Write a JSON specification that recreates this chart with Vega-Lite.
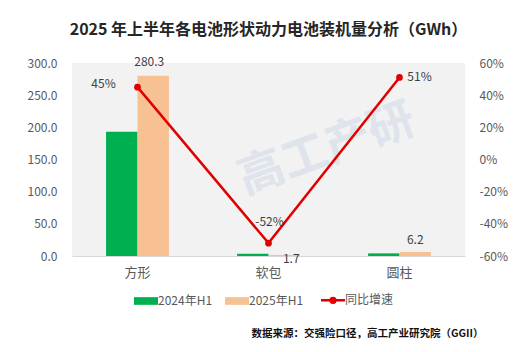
{
  "$schema": "https://vega.github.io/schema/vega-lite/v6.json",
  "width": 393,
  "height": 193,
  "autosize": {"type": "none"},
  "padding": {"left": 72, "top": 63, "right": 63, "bottom": 96},
  "background": "#ffffff",
  "config": {
    "view": {"stroke": null, "fill": "#f2f2f2"},
    "font": "Noto Sans CJK SC",
    "axis": {"labelFont": "Noto Sans CJK SC", "titleFont": "Noto Sans CJK SC"}
  },
  "title": {
    "text": "2025 年上半年各电池形状动力电池装机量分析（GWh）",
    "fontSize": 16,
    "fontWeight": "bold",
    "color": "#262626",
    "anchor": "middle",
    "offset": 18
  },
  "datasets": {
    "bars": [
      {"cat": "方形", "series": "2024年H1", "value": 193.3},
      {"cat": "方形", "series": "2025年H1", "value": 280.3},
      {"cat": "软包", "series": "2024年H1", "value": 3.5},
      {"cat": "软包", "series": "2025年H1", "value": 1.7},
      {"cat": "圆柱", "series": "2024年H1", "value": 4.1},
      {"cat": "圆柱", "series": "2025年H1", "value": 6.2}
    ],
    "growth": [
      {"cat": "方形", "growth": 45, "label": "45%"},
      {"cat": "软包", "growth": -52, "label": "-52%"},
      {"cat": "圆柱", "growth": 51, "label": "51%"}
    ],
    "mark": [
      {"cat": "软包", "value": 132, "text": "高工产研"}
    ]
  },
  "encoding": {
    "x": {
      "field": "cat", "type": "nominal", "sort": ["方形", "软包", "圆柱"],
      "scale": {"paddingInner": 0.52, "paddingOuter": 0.26},
      "axis": {
        "labelAngle": 0, "labelFontSize": 13, "labelColor": "#595959", "labelPadding": 10,
        "ticks": false, "domainColor": "#d9d9d9", "domainWidth": 1,
        "title": "数据来源：交强险口径，高工产业研究院（GGII）",
        "titleFontSize": 10.5, "titleFontWeight": "bold", "titleColor": "#111111",
        "titleAlign": "right", "titleBaseline": "middle", "titleX": 411, "titleY": 77
      }
    }
  },
  "layer": [
    {
      "encoding": {
        "y": {
          "field": "value", "type": "quantitative",
          "scale": {"domain": [0, 300]},
          "axis": {
            "values": [0, 50, 100, 150, 200, 250, 300], "format": ".1f", "labelOverlap": false,
            "grid": false, "ticks": false, "domain": false,
            "labelFontSize": 12, "labelColor": "#595959", "labelPadding": 15, "title": null
          }
        }
      },
      "layer": [
        {
          "data": {"name": "mark"},
          "mark": {"type": "text", "fontSize": 46, "fontWeight": "bold", "angle": -20, "color": "#dfe4ec", "dx": 62},
          "encoding": {
            "text": {"field": "text"}
          }
        },
        {
          "data": {"name": "bars"},
          "mark": {"type": "bar"},
          "encoding": {
            "xOffset": {"field": "series", "sort": ["2024年H1", "2025年H1"], "scale": {"paddingInner": 0, "paddingOuter": 0}},
            "color": {
              "field": "series", "type": "nominal",
              "scale": {"domain": ["2024年H1", "2025年H1", "同比增速"], "range": ["#00b050", "#f8c193", "#e00000"]},
              "legend": {
                "title": null, "orient": "none", "direction": "horizontal",
                "legendX": 68, "legendY": 231,
                "labelFontSize": 12, "labelColor": "#595959", "labelOffset": 6,
                "columnPadding": 12, "symbolSize": 576, "padding": 0,
                "encode": {
                  "symbols": {
                    "update": {
                      "shape": {"signal": "datum.value === '同比增速' ? 'M-1,0H1M-0.2,0A0.2,0.2,0,1,1,0.2,0A0.2,0.2,0,1,1,-0.2,0Z' : 'M-1,-0.32H1V0.32H-1Z'"},
                      "stroke": {"signal": "datum.value === '同比增速' ? '#e00000' : 'transparent'"},
                      "strokeWidth": {"signal": "datum.value === '同比增速' ? 2.5 : 0"},
                      "opacity": {"value": 1}
                    }
                  }
                }
              }
            }
          }
        },
        {
          "data": {"name": "bars"},
          "transform": [{"filter": "datum.series === '2025年H1' && datum.cat === '方形'"}],
          "mark": {"type": "text", "fontSize": 12, "color": "#404040", "dy": -7, "dx": -4, "baseline": "bottom"},
          "encoding": {
            "xOffset": {"field": "series", "sort": ["2024年H1", "2025年H1"]},
            "text": {"field": "value", "format": ".1f"}
          }
        },
        {
          "data": {"name": "bars"},
          "transform": [{"filter": "datum.series === '2025年H1' && datum.cat === '软包'"}],
          "mark": {"type": "text", "fontSize": 12, "color": "#404040", "dy": 4, "dx": 7, "baseline": "middle"},
          "encoding": {
            "xOffset": {"field": "series", "sort": ["2024年H1", "2025年H1"]},
            "text": {"field": "value", "format": ".1f"}
          }
        },
        {
          "data": {"name": "bars"},
          "transform": [{"filter": "datum.series === '2025年H1' && datum.cat === '圆柱'"}],
          "mark": {"type": "text", "fontSize": 12, "color": "#404040", "dy": -12, "dx": 0, "baseline": "middle"},
          "encoding": {
            "xOffset": {"field": "series", "sort": ["2024年H1", "2025年H1"]},
            "text": {"field": "value", "format": ".1f"}
          }
        }
      ]
    },
    {
      "data": {"name": "growth"},
      "encoding": {
        "y": {
          "field": "growth", "type": "quantitative",
          "scale": {"domain": [-60, 60]},
          "axis": {
            "orient": "right", "values": [-60, -40, -20, 0, 20, 40, 60], "labelOverlap": false,
            "labelExpr": "datum.value + '%'",
            "grid": false, "ticks": false, "domain": false,
            "labelFontSize": 12, "labelColor": "#595959", "labelPadding": 14, "labelAlign": "left", "title": null
          }
        }
      },
      "layer": [
        {
          "mark": {"type": "line", "strokeWidth": 2.5, "color": "#e00000", "point": {"filled": true, "size": 45, "color": "#e00000"}}
        },
        {
          "transform": [{"filter": "datum.cat === '方形'"}],
          "mark": {"type": "text", "fontSize": 12, "color": "#404040", "dx": -34, "dy": -3, "baseline": "middle"},
          "encoding": {"text": {"field": "label"}}
        },
        {
          "transform": [{"filter": "datum.cat === '软包'"}],
          "mark": {"type": "text", "fontSize": 12, "color": "#404040", "dx": 1, "dy": -21, "baseline": "middle"},
          "encoding": {"text": {"field": "label"}}
        },
        {
          "transform": [{"filter": "datum.cat === '圆柱'"}],
          "mark": {"type": "text", "fontSize": 12, "color": "#404040", "dx": 20, "dy": 0, "baseline": "middle"},
          "encoding": {"text": {"field": "label"}}
        }
      ]
    }
  ],
  "resolve": {"scale": {"y": "independent"}}
}
